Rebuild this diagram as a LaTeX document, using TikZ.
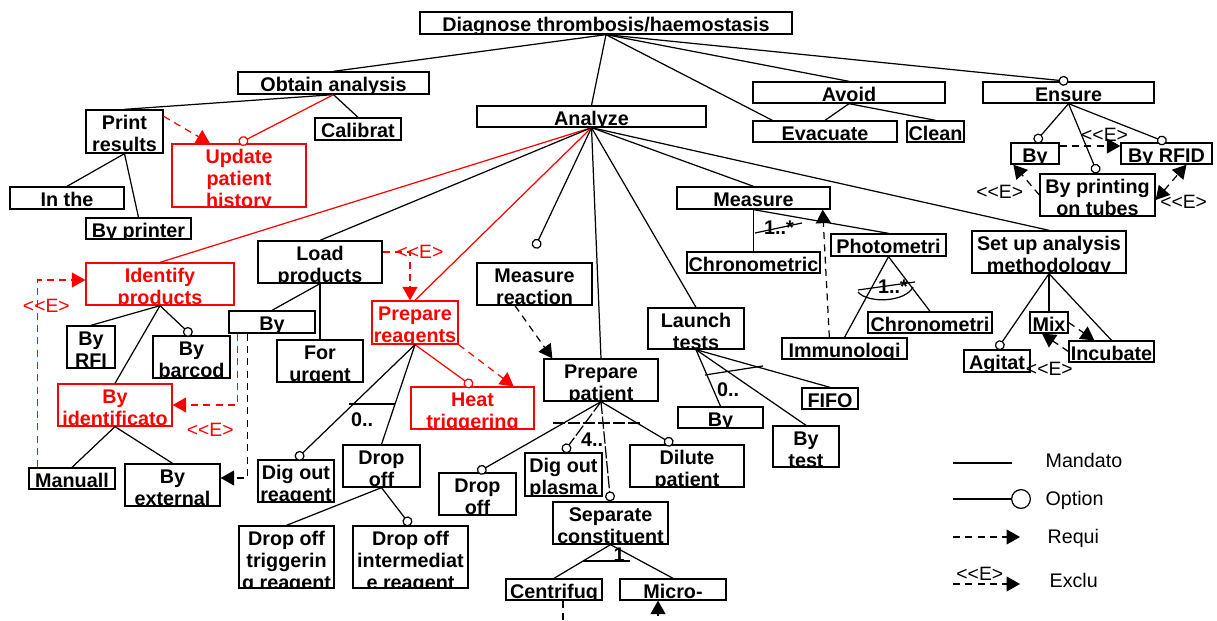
\documentclass[tikz,border=0pt]{standalone}
\usepackage{fontspec}
\setmainfont{Liberation Sans}
\usetikzlibrary{arrows.meta}

\newcommand\boxfont{\fontsize{11.25}{12.5}\selectfont\bfseries}
\newcommand\lblfont{\fontsize{11}{12}\selectfont}
\newcommand\legfont{\fontsize{11.2}{13}\selectfont}
\newcommand\exl{<\kern0pt<E>}

\tikzset{
  box/.style={draw,line width=0.75pt,inner sep=0pt,
    path picture={\node[anchor=north,align=center,inner sep=0pt,
      minimum width=0pt,minimum height=0pt,font=\boxfont]
      at ([yshift=-0.1cm]path picture bounding box.north) {#1};}},
  rbox/.style={box={#1},red},
  sz/.style 2 args={minimum width=#1cm,minimum height=#2cm},
  opt/.style={-{Circle[fill=white,length=0.2cm]}},
  req/.style={dash pattern=on 4pt off 3pt,-{Triangle[length=0.27cm,width=0.3cm]}},
  biex/.style={dash pattern=on 4pt off 3pt,
    {Triangle[length=0.27cm,width=0.3cm]}-{Triangle[length=0.27cm,width=0.3cm]}},
  ldash/.style={dash pattern=on 7pt off 1.5pt},
  lbl/.style={inner sep=0pt,font=\lblfont},
  card/.style={inner sep=0pt,font=\boxfont},
  leg/.style={inner sep=0pt,anchor=base west,font=\legfont}
}

\begin{document}
\begin{tikzpicture}[x=0.02cm,y=-0.02cm,line width=0.7pt]
\useasboundingbox (0,0) rectangle (1217,621);
\clip (0,0) rectangle (1217,621);

% features
\node[box={Diagnose thrombosis/haemostasis},sz={7.44}{0.44}] (dg) at (606,23) {};
\node[box={Obtain analysis},sz={3.82}{0.44}] (oa) at (333.5,83) {};
\node[box={Print\\results},sz={1.54}{0.86}] (prr) at (124.5,131.5) {};
\node[rbox={Update\\patient\\history},sz={2.68}{1.26}] (uph) at (239,175.5) {};
\node[box={Calibrat},sz={1.72}{0.44}] (cal) at (358,129) {};
\node[box={In the},sz={2.28}{0.44}] (inth) at (67,198) {};
\node[box={By printer},sz={2.1}{0.42}] (byp) at (138.5,228.5) {};
\node[box={Analyze},sz={4.58}{0.42}] (an) at (591.5,116.5) {};
\node[box={Avoid},sz={3.84}{0.42}] (av) at (849,92.5) {};
\node[box={Evacuate},sz={2.88}{0.42}] (ev) at (825,131.5) {};
\node[box={Clean},sz={1.14}{0.42}] (cl) at (935.5,131.5) {};
\node[box={Ensure},sz={3.42}{0.42}] (en) at (1068.5,92.5) {};
\node[box={By},sz={0.96}{0.42}] (eby) at (1035,153.5) {};
\node[box={By RFID},sz={1.82}{0.42}] (erf) at (1166.5,153.5) {};
\node[box={By printing\\on tubes},sz={2.3}{0.84}] (ept) at (1097.5,195) {};
\node[box={Measure},sz={3.06}{0.44}] (ms) at (753.5,198) {};
\node[box={Chronometric},sz={2.66}{0.42}] (chm) at (753.5,262.5) {};
\node[box={Photometri},sz={2.3}{0.44}] (pho) at (888.5,245) {};
\node[box={Chronometri},sz={2.48}{0.42}] (chi) at (930,322.5) {};
\node[box={Immunologi},sz={2.5}{0.42}] (imm) at (844.5,348.5) {};
\node[box={Set up analysis\\methodology},sz={3.08}{0.84}] (su) at (1049,252) {};
\node[box={Mix},sz={0.76}{0.42}] (mix) at (1049,322.5) {};
\node[box={Incubate},sz={1.7}{0.42}] (inc) at (1111.5,351.5) {};
\node[box={Agitat},sz={1.32}{0.44}] (agi) at (997,361) {};
\node[box={FIFO},sz={1.12}{0.42}] (fifo) at (830,398.5) {};
\node[box={By},sz={1.7}{0.42}] (lby) at (720.5,417.5) {};
\node[box={By\\test},sz={1.32}{0.82}] (byt) at (806,446.5) {};
\node[box={Launch\\tests},sz={1.92}{0.82}] (lt) at (696,328.5) {};
\node[box={Measure\\reaction},sz={2.3}{0.84}] (mr) at (534.5,284) {};
\node[box={Prepare\\patient},sz={2.28}{0.84}] (pp) at (601,380) {};
\node[rbox={Heat\\triggering},sz={2.46}{0.84}] (heat) at (472.5,408) {};
\node[rbox={Prepare\\reagents},sz={1.72}{0.86}] (prg) at (415,322.5) {};
\node[box={Load\\products},sz={2.48}{0.84}] (lp) at (320,262) {};
\node[box={By},sz={1.72}{0.44}] (ldby) at (272,322) {};
\node[box={For\\urgent},sz={1.72}{0.84}] (furg) at (320,361) {};
\node[rbox={Identify\\products},sz={2.96}{0.84}] (ip) at (160,284) {};
\node[box={By\\RFI},sz={0.96}{0.84}] (brfi) at (91,347) {};
\node[box={By\\barcod},sz={1.54}{0.84}] (bbar) at (191.5,357) {};
\node[rbox={By\\identificato},sz={2.28}{0.84}] (bid) at (115,405) {};
\node[box={Manuall},sz={1.72}{0.42}] (man) at (72,478.5) {};
\node[box={By\\external},sz={1.9}{0.84}] (bext) at (172.5,485) {};
\node[box={Dig out\\reagent},sz={1.52}{0.84}] (dor) at (296,481) {};
\node[box={Drop\\off},sz={1.54}{0.84}] (dof) at (381.5,466) {};
\node[box={Drop off\\triggerin\\g reagent},sz={1.9}{1.24}] (dotr) at (286.5,557) {};
\node[box={Drop off\\intermediat\\e reagent},sz={2.3}{1.24}] (doir) at (410.5,557) {};
\node[box={Drop\\off},sz={1.54}{0.84}] (dop) at (477.5,494) {};
\node[box={Dig out\\plasma},sz={1.54}{0.86}] (dpl) at (563.5,474.5) {};
\node[box={Dilute\\patient},sz={2.28}{0.84}] (dil) at (687,466) {};
\node[box={Separate\\constituent},sz={2.3}{0.84}] (sep) at (610.5,523) {};
\node[box={Centrifug},sz={1.92}{0.42}] (cen) at (554,589.5) {};
\node[box={Micro-},sz={2.12}{0.42}] (mic) at (673,589.5) {};

% root
\draw (dg.south) -- (oa.north);
\draw (dg.south) -- (an.north);
\draw (dg.south) -- ([xshift=0.4cm]ev.north west);
\draw (dg.south) -- (av.north);
\draw[opt] (dg.south) -- (en.north);

% obtain analysis
\draw (oa.south) -- (prr.north);
\draw[opt,red] (oa.south) -- (uph.north);
\draw (oa.south) -- (cal.north);
\draw (prr.south) -- (inth.north);
\draw (prr.south) -- (byp.north);
\draw[req,red] ([yshift=-0.14cm]prr.north east) -- ([xshift=-0.58cm]uph.north);

% avoid, ensure
\draw (av.south) -- (ev.north);
\draw (av.south) -- (cl.north);
\draw[opt] (en.south) -- (eby.north);
\draw[opt] (en.south) -- (ept.north);
\draw[opt] (en.south) -- (erf.north);
\draw[req] ([yshift=0.15cm]eby.east) -- node[lbl,pos=0.74,yshift=0.22cm] (e1) {\exl} ([yshift=0.15cm]erf.west);
\draw[req] (ept.west) -- node[lbl,pos=0.1,xshift=-0.74cm] (e2) {\exl} ([xshift=0.06cm]eby.south west);
\draw[biex] ([yshift=-0.1cm]ept.east) -- node[lbl,pos=0,xshift=0.56cm,yshift=-0.04cm] (e3) {\exl} ([xshift=0.4cm]erf.south);

% analyze
\draw[red] (an.south) -- (ip.north);
\draw (an.south) -- (lp.north);
\draw[red] (an.south) -- (prg.north);
\draw[opt] (an.south) -- ([yshift=0.28cm]mr.north);
\draw (an.south) -- (pp.north);
\draw (an.south) -- (lt.north);
\draw (an.south) -- (ms.north);
\draw (an.south) -- (su.north);

% identify products
\draw (ip.south) -- (brfi.north);
\draw[opt] (ip.south) -- (bbar.north);
\draw (ip.south) -- (bid.north);
\draw (bid.south) -- (man.north);
\draw (bid.south) -- (bext.north);
\draw[req,red] ([xshift=0.18cm]man.north west) |- node[lbl,pos=0.43,xshift=0.18cm] (e4) {\exl} ([yshift=0.08cm]ip.west);
\draw[req,red] ([xshift=0.18cm]ldby.south west) |- node[lbl,pos=0.71,yshift=-0.5cm] (e5) {\exl} (bid.east);
\draw[req] ([xshift=0.38cm]ldby.south west) |- ([yshift=0.14cm]bext.east);

% load products
\draw (lp.south) -- (ldby.north);
\draw (lp.south) -- (furg.north);
\draw[req,red] ([yshift=0.2cm]lp.east) -| node[lbl,pos=0.5,xshift=0.2cm] (e6) {\exl} ([xshift=-0.1cm]prg.north);

% prepare reagents
\draw[opt,red] (prg.south) -- (heat.north);
\draw[req,red] (prg.south east) -- ([xshift=-0.42cm]heat.north east);
\draw[opt] (prg.south) -- (dor.north);
\draw (prg.south) -- (dof.north);
\draw (349,404) -- (395,404);
\node[card] (c1) at (362,420) {0..};
\draw (dof.south) -- (dotr.north);
\draw[opt] (dof.south) -- (doir.north);

% prepare patient
\draw[req] ([xshift=-0.39cm]mr.south) -- ([xshift=0.18cm]pp.north west);
\draw[opt] (pp.south) -- (dop.north);
\draw[opt,ldash] (pp.south) -- (dpl.north);
\draw[opt,ldash] (pp.south) -- (sep.north);
\draw[opt] (pp.south) -- ([xshift=-0.28cm]dil.north);
\draw[ldash] (553,423) -- (640,423);
\node[card] (c2) at (592,440) {4..};
\draw (sep.south) -- (cen.north);
\draw (sep.south) -- (mic.north);
\draw (583,561) -- (630,561);
\node[card] (c3) at (619,555) {1};
\draw[req] ([xshift=0.18cm]cen.south) -- ++(0,40) -| ([xshift=-0.3cm]mic.south);

% launch tests
\draw (lt.south) -- (lby.north);
\draw (lt.south) -- (byt.north);
\draw (lt.south) -- (fifo.north);
\draw (705,375) -- (763,366);
\node[card] (c4) at (728,390) {0..};

% measure
\draw (ms.south) -- (chm.north);
\draw (ms.south) -- (pho.north);
\draw (755,233) -- (802,223);
\node[card] (c5) at (779,228) {1..*};
\draw[req] ([xshift=0.96cm]imm.north west) -- ([xshift=-0.16cm]ms.south east);
\draw (pho.south) -- (imm.north);
\draw (pho.south) -- (chi.north);
\draw (858,290) -- (915,282);
\draw (858,292) .. controls (868,304) and (906,302) .. (913,287);
\node[card] (c6) at (893,287) {1..*};

% set up analysis
\draw[opt] (su.south) -- (agi.north);
\draw (su.south) -- (mix.north);
\draw (su.south) -- (inc.north);
\draw[req] (mix.east) -- ([xshift=0.52cm]inc.north west);
\draw[req] (inc.west) -- node[lbl,pos=0,xshift=-0.38cm,yshift=-0.35cm] (e7) {\exl} ([xshift=-0.14cm]mix.south);

% legend
\coordinate (m1) at (953,463); \coordinate (m2) at (1012,463);
\coordinate (o1) at (953,499); \coordinate (o2) at (1031,499);
\coordinate (r1) at (953,537); \coordinate (r2) at (1020,537);
\coordinate (x1) at (953,584); \coordinate (x2) at (1020,584);
\draw (m1) -- (m2);
\draw[-{Circle[fill=white,length=0.4cm]}] (o1) -- (o2);
\draw[req] (r1) -- (r2);
\draw[req] (x1) -- node[lbl,pos=0.4,yshift=0.2cm] (e8) {\exl} (x2);
\node[leg] (lmand) at (1045,467) {Mandato};
\node[leg] (lopt) at (1045,505) {Option};
\node[leg] (lreq) at (1047,543) {Requi};
\node[leg] (lexc) at (1049,587) {Exclu};
\end{tikzpicture}
\end{document}
